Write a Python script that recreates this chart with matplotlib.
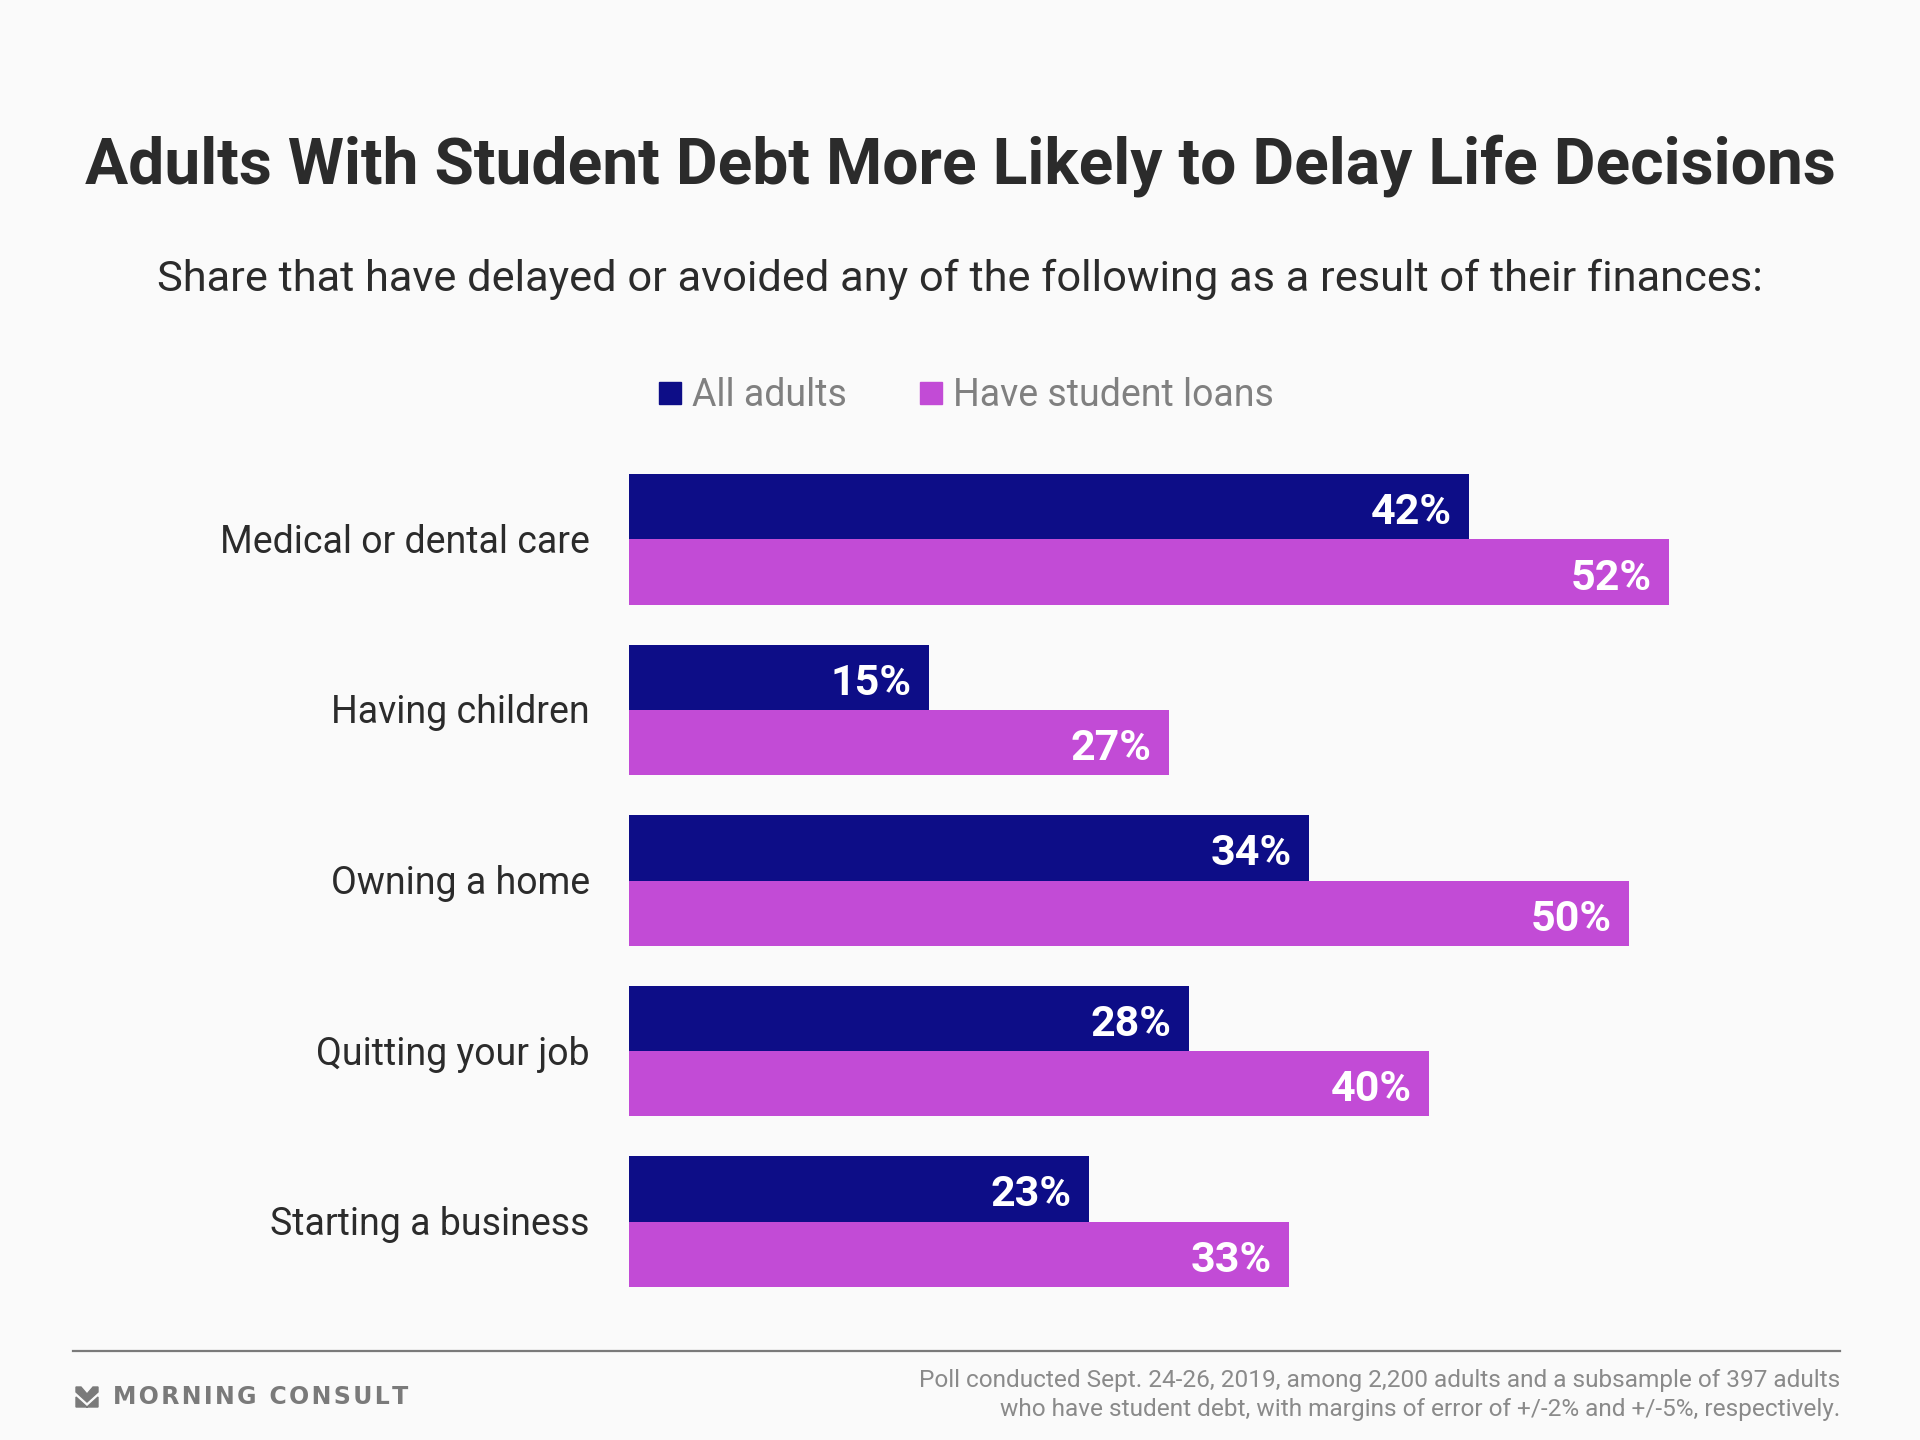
import matplotlib
matplotlib.use("Agg")
import matplotlib.pyplot as plt
from matplotlib.patches import Polygon, Rectangle
from matplotlib.lines import Line2D

categories = ["Medical or dental care", "Having children", "Owning a home",
              "Quitting your job", "Starting a business"]
all_adults = [42, 15, 34, 28, 23]
student_loans = [52, 27, 50, 40, 33]
series_names = ["All adults", "Have student loans"]

title = "Adults With Student Debt More Likely to Delay Life Decisions"
subtitle = "Share that have delayed or avoided any of the following as a result of their finances:"
footnote = ("Poll conducted Sept. 24-26, 2019, among 2,200 adults and a subsample of 397 adults\n"
            "who have student debt, with margins of error of +/-2% and +/-5%, respectively.")
brand = "MORNING CONSULT"

C_DARK = "#0D0D87"
C_PINK = "#C24BD6"
BG = "#FAFAFA"

plt.rcParams['font.family'] = ['Roboto', 'DejaVu Sans']

W, H = 1920, 1440
fig = plt.figure(figsize=(W / 100, H / 100), dpi=100, facecolor=BG)

def fx(px):
    return px / W

def fy(py):
    return 1 - py / H

# axes region in pixel coordinates
left, right = 629, 1829
top, bottom = 474, 1287
ax = fig.add_axes([fx(left), fy(bottom), fx(right - left), (bottom - top) / H])
ax.set_facecolor(BG)
h = 0.384
ax.set_xlim(0, 60)
ax.set_ylim(len(categories) - 1 + h, -h)

ypos = list(range(len(categories)))
ax.barh([y - h for y in ypos], all_adults, height=h, align='edge', color=C_DARK)
ax.barh(ypos, student_loans, height=h, align='edge', color=C_PINK)

for y, cat, a, s in zip(ypos, categories, all_adults, student_loans):
    ax.annotate(cat, xy=(0, y), xytext=(-39, -3), textcoords='offset pixels',
                ha='right', va='center', fontsize=27.0, color='#2b2b2b')
    ax.annotate(f"{a}%", xy=(a, y - h / 2), xytext=(-17, -6), textcoords='offset pixels',
                ha='right', va='center', fontsize=31, fontweight='bold', color='white')
    ax.annotate(f"{s}%", xy=(s, y + h / 2), xytext=(-17, -6), textcoords='offset pixels',
                ha='right', va='center', fontsize=31, fontweight='bold', color='white')

ax.axis('off')

# title & subtitle
fig.text(0.5, fy(166), title, ha='center', va='center', fontsize=46.2,
         fontweight='bold', color='#2b2b2b')
fig.text(0.5, fy(279), subtitle, ha='center', va='center', fontsize=31.2,
         color='#2b2b2b')

# legend
for x_sq, x_txt, name, col in [(659, 692, series_names[0], C_DARK),
                               (920, 953, series_names[1], C_PINK)]:
    fig.patches.append(Rectangle((fx(x_sq), fy(404)), fx(22), 22 / H,
                                 transform=fig.transFigure, color=col))
    fig.text(fx(x_txt), fy(396), name, ha='left', va='center', fontsize=27,
             color='#808080')

# footer line
fig.add_artist(Line2D([fx(73), fx(1840)], [fy(1351), fy(1351)], color='#7a7a7a',
                      lw=1.6, transform=fig.transFigure))

# footnote
fig.text(fx(1840), fy(1395), footnote, ha='right', va='center', fontsize=17.6,
         color='#8a8a8a', linespacing=1.3)

# brand logo
icon = [(76, 1387), (81, 1387), (87, 1394), (93, 1387), (98, 1387), (98, 1392),
        (87, 1402), (76, 1392)]
fig.patches.append(Polygon([(fx(x), fy(y)) for x, y in icon], closed=True,
                           transform=fig.transFigure, color='#7a7a7a'))
icon2 = [(76, 1397), (87, 1407), (98, 1397), (98, 1407), (76, 1407)]
fig.patches.append(Polygon([(fx(x), fy(y)) for x, y in icon2], closed=True,
                           transform=fig.transFigure, color='#7a7a7a'))
brand_spaced = "\u200a".join(brand)
fig.text(fx(113), fy(1397), brand_spaced, ha='left', va='center',
         fontsize=17, fontweight='bold', color='#7a7a7a', family=['DejaVu Sans'])

fig.savefig("out.png", dpi=100, facecolor=BG)
